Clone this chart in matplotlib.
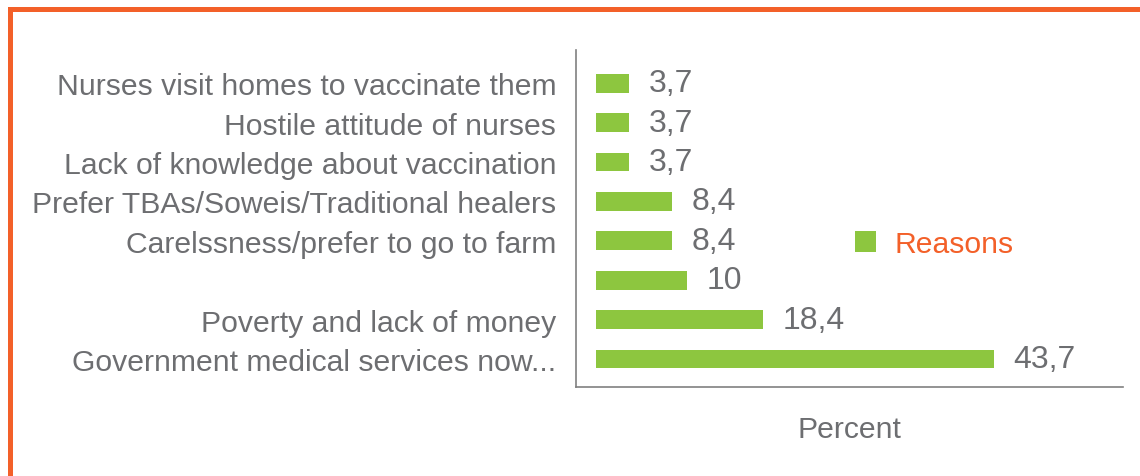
# -*- coding: utf-8 -*-
"""
Reasons for not vaccinating - horizontal bar chart
"""
import matplotlib.pyplot as plt
import matplotlib.patches as mpatches

# %% data
reasons = ['Nurses visit homes to vaccinate them',
           'Hostile attitude of nurses',
           'Lack of knowledge about vaccination',
           'Prefer TBAs/Soweis/Traditional healers',
           'Carelssness/prefer to go to farm',
           '',
           'Poverty and lack of money',
           'Government medical services now...']
percent = [3.7, 3.7, 3.7, 8.4, 8.4, 10, 18.4, 43.7]
value_labels = ['3,7', '3,7', '3,7', '8,4', '8,4', '10', '18,4', '43,7']

green = '#8dc63f'
orange = '#f36029'
grey = '#6d6e71'

# set plot style
plt.rcParams['font.family'] = ['Liberation Sans', 'DejaVu Sans']
plt.rcParams['font.size'] = 21.7

# %% plot
fig = plt.figure(figsize=(11.4, 4.77), dpi=100)
ax = fig.add_axes([0.505, 0.1866, 0.48, 0.7064])

ypos = range(len(reasons))
bars = ax.barh(ypos, percent, height=0.48, color=green, label='Reasons')

for b, txt in zip(bars, value_labels):
    ax.annotate(txt, (b.get_width(), b.get_y() + b.get_height() / 2),
                xytext=(14, 0), textcoords='offset points',
                va='center', ha='left', color=grey, fontsize=23)

ax.set_yticks(list(ypos))
ax.set_yticklabels(reasons, color=grey)
ax.set_ylim(7.71, -0.84)
ax.set_xlim(-2.2, 57.9)
ax.set_xticks([])
ax.tick_params(axis='y', length=0, pad=14)

for s in ['top', 'right']:
    ax.spines[s].set_visible(False)
for s in ['left', 'bottom']:
    ax.spines[s].set_color('#808080')
    ax.spines[s].set_linewidth(1.2)

ax.set_xlabel('Percent', color=grey, labelpad=20)

fig.legend(loc='center left', bbox_to_anchor=(855 / 1140, 1 - 245 / 477),
           frameon=False, labelcolor=orange, handlelength=0.7,
           handleheight=0.7, handletextpad=0.6, borderpad=0,
           borderaxespad=0, fontsize=21.7)

# orange frame along top and left
fig.add_artist(mpatches.Rectangle((8 / 1140, 0), 5 / 1140, 1 - 8 / 477,
                                  transform=fig.transFigure, color=orange, lw=0))
fig.add_artist(mpatches.Rectangle((8 / 1140, 1 - 13 / 477), 1 - 8 / 1140, 5 / 477,
                                  transform=fig.transFigure, color=orange, lw=0))

fig.savefig('out.png', dpi=100)
